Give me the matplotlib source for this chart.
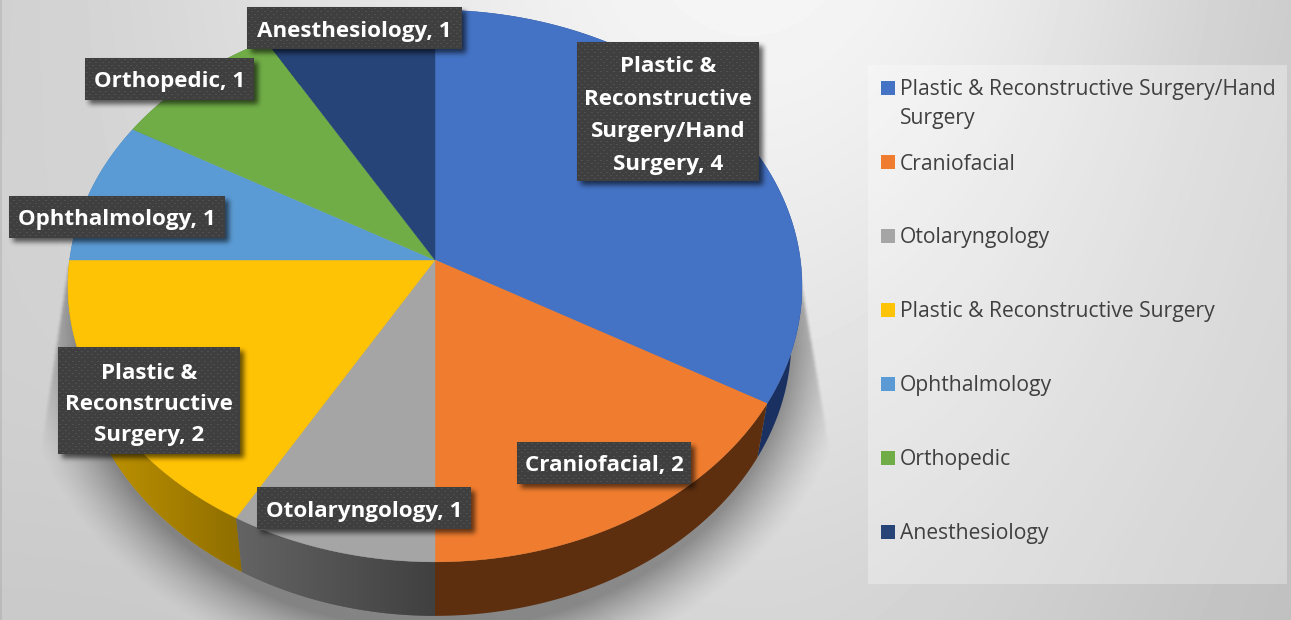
import numpy as np
import matplotlib
matplotlib.use("Agg")
import matplotlib.pyplot as plt
from matplotlib.patches import Polygon, Rectangle
from matplotlib.colors import to_rgb

# ---- data ----
categories = ["Plastic & Reconstructive Surgery/Hand Surgery", "Craniofacial", "Otolaryngology",
              "Plastic & Reconstructive Surgery", "Ophthalmology", "Orthopedic", "Anesthesiology"]
values = [4, 2, 1, 2, 1, 1, 1]
colors = ["#4472C4", "#F07D2F", "#A5A5A5", "#FFC305", "#5B9BD5", "#70AD47", "#264478"]
side_left = ["#1A3060", "#5E2F0F", "#646464", "#C89A00", "#33689A", "#436A2A", "#16284A"]
side_right = ["#1A3060", "#5E2F0F", "#404040", "#8F6E00", "#33689A", "#436A2A", "#16284A"]
legend_labels = ["Plastic & Reconstructive Surgery/Hand\nSurgery", "Craniofacial", "Otolaryngology",
                 "Plastic & Reconstructive Surgery", "Ophthalmology", "Orthopedic", "Anesthesiology"]
data_labels = ["Plastic &\nReconstructive\nSurgery/Hand\nSurgery, 4", "Craniofacial, 2", "Otolaryngology, 1",
               "Plastic &\nReconstructive\nSurgery, 2", "Ophthalmology, 1", "Orthopedic, 1", "Anesthesiology, 1"]

# ---- layout ----
W, H = 1291, 620
CX, CY, A, B, K = 435.0, 260.0, 365.4, 273.5, 0.094
DEPTH, SHRINK = 54.0, 0.971
label_boxes = [(577, 42, 759, 181), (517, 442, 691, 484), (257, 487, 471, 529),
               (58, 347, 240, 454), (9, 196, 225, 238), (85, 58, 254, 100), (247, 7, 462, 49)]
legend_ys = [88, 162, 236, 310, 384, 458, 532]

FONT = "Open Sans"
LEG_SIZE = 15.2
LAB_SIZE = 16.1
fig = plt.figure(figsize=(W / 100, H / 100), dpi=100)
ax = fig.add_axes([0, 0, 1, 1])
ax.set_axis_off()


def top_pt(theta):
    """theta in radians, clockwise from 12 o'clock, on the perspective disc."""
    u, v = np.sin(theta), np.cos(theta)
    d = 1 + K * v
    return CX + A * u / d, CY - B * v / d


def bot_pt(theta):
    x, y = top_pt(theta)
    return CX + (x - CX) * SHRINK, y + DEPTH


def blur(a, r):
    r = int(r)
    out = a.copy()
    for _ in range(3):
        for axis in (0, 1):
            pad = [(0, 0), (0, 0)]
            pad[axis] = (r + 1, r)
            c = np.cumsum(np.pad(out, pad, mode="edge"), axis=axis)
            if axis == 0:
                out = (c[2 * r + 1:, :] - c[:-2 * r - 1, :]) / (2 * r + 1)
            else:
                out = (c[:, 2 * r + 1:] - c[:, :-2 * r - 1]) / (2 * r + 1)
    return out


# background: soft grey gradient
bg_grid = np.array([[0xCE, 0xDE, 0xF0, 0xFB, 0xEC, 0xC8],
                    [0xD0, 0xD8, 0xE8, 0xF0, 0xE2, 0xC4],
                    [0xD0, 0xD4, 0xDC, 0xE4, 0xD8, 0xC2],
                    [0xC8, 0xC8, 0xD0, 0xD6, 0xCE, 0xBC]], float)
ax.imshow(bg_grid, cmap="gray", vmin=0, vmax=255, extent=(-130, W + 130, H + 100, -100),
          interpolation="bicubic", aspect="auto", zorder=0)
ax.add_patch(Rectangle((0, 0), 2, H, facecolor="black", alpha=0.08, edgecolor="none", zorder=0.5))

# pie shadow
yy, xx = np.mgrid[0:H, 0:W]
ell_cy = 290.0
rr = np.sqrt(((xx - CX) / (A * SHRINK + 4)) ** 2 + ((yy - (ell_cy + DEPTH - 16)) / (B * 1.10)) ** 2)
dist = (rr - 1) * 340
sh = np.clip(1 - dist / 62, 0, 1) ** 1.4 * 0.36
# the fan-shaped sharp limit on both flanks
right_lim = 802 + (yy - 290) * 0.17
left_lim = 69 - (yy - 260) * 0.15
fan = ((xx < right_lim) & (xx > left_lim) & (yy > 262)).astype(float)
sh = sh * blur(fan, 1)
rgba = np.zeros((H, W, 4))
rgba[..., 3] = np.clip(sh, 0, 1)
ax.imshow(rgba, extent=(0, W, H, 0), aspect="auto", zorder=1, interpolation="bilinear")

# pie
edges = np.cumsum([0] + values) / sum(values) * 2 * np.pi
order = [4, 5, 6, 0, 3, 2, 1]
for i in order:
    t = np.linspace(edges[i], edges[i + 1], 80)
    x1, y1 = top_pt(t)
    x2, y2 = bot_pt(t)
    pts = np.r_[np.c_[x1, y1], np.c_[x2, y2][::-1]]
    poly = Polygon(pts, closed=True, facecolor=side_left[i], edgecolor="none", zorder=2)
    ax.add_patch(poly)
    if side_left[i] != side_right[i]:
        c1, c2 = np.array(to_rgb(side_left[i])), np.array(to_rgb(side_right[i]))
        x0, x3 = pts[:, 0].min(), pts[:, 0].max()
        y0, y3 = pts[:, 1].min(), pts[:, 1].max()
        g = np.linspace(0, 1, 256)[None, :, None] * (c2 - c1) + c1
        im = ax.imshow(g, extent=(x0, x3, y3, y0), aspect="auto", zorder=2.1, interpolation="bilinear")
        im.set_clip_path(poly)

for i in range(len(values)):
    t = np.linspace(edges[i], edges[i + 1], 120)
    x1, y1 = top_pt(t)
    ax.add_patch(Polygon(np.r_[[[CX, CY]], np.c_[x1, y1]], closed=True, facecolor=colors[i],
                         edgecolor=colors[i], linewidth=0.3, zorder=3, label=categories[i]))

# legend panel
ax.add_patch(Rectangle((868, 65), 419, 519, facecolor="white", alpha=0.30, edgecolor="none", zorder=1.5))
for i, lab in enumerate(legend_labels):
    y = legend_ys[i]
    ax.add_patch(Rectangle((881, y - 7), 14, 14, facecolor=colors[i], edgecolor="none", zorder=4))
    ax.text(900, y + 2, lab.split("\n")[0], fontsize=LEG_SIZE, family=FONT, color="#404040",
            va="center", ha="left", zorder=4)
    if "\n" in lab:
        ax.text(900, y + 30.5, lab.split("\n")[1], fontsize=LEG_SIZE, family=FONT, color="#404040",
                va="center", ha="left", zorder=4)

# label shadows
mask = np.zeros((H, W))
for (x0, y0, x1, y1) in label_boxes:
    mask[y0 + 4:y1 + 4, x0 + 4:x1 + 4] = 1
rgba = np.zeros((H, W, 4))
rgba[..., 3] = blur(mask, 2) * 0.6
ax.imshow(rgba, extent=(0, W, H, 0), aspect="auto", zorder=5, interpolation="bilinear")

# label boxes with dotted texture and text
for (x0, y0, x1, y1), lab in zip(label_boxes, data_labels):
    h, w = y1 - y0, x1 - x0
    tile = np.full((h, w), 0x3F / 255)
    for r, yp in enumerate(np.arange(1.5, h - 1, 3.15)):
        for xp in np.arange(1.5 + (3.15 if r % 2 else 0), w - 1, 6.3):
            tile[int(yp), int(xp):int(xp) + 2] = 0x50 / 255
    ax.imshow(tile, cmap="gray", vmin=0, vmax=1, extent=(x0, x1, y1, y0), aspect="auto",
              zorder=6, interpolation="bilinear")
    nl = lab.count("\n")
    ax.text((x0 + x1) / 2, (y0 + y1) / 2 + (4 if nl else 3), lab, fontsize=LAB_SIZE, family=FONT, weight="bold",
            color="white", ha="center", va="center", zorder=7,
            linespacing=1.71 if nl == 3 else 1.62, multialignment="center")

ax.set_xlim(0, W)
ax.set_ylim(H, 0)
fig.savefig("out.png", dpi=100)
